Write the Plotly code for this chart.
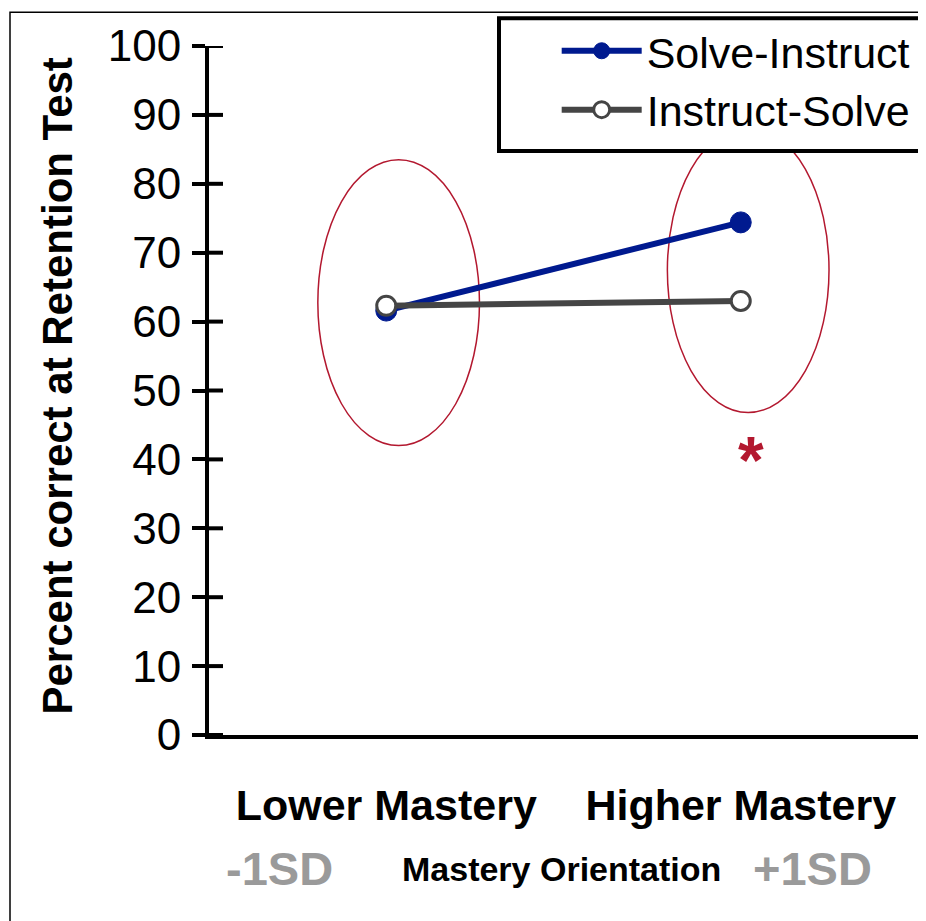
import plotly.graph_objects as go

# ---- data ----
categories = ["Lower Mastery", "Higher Mastery"]
solve_instruct = [61.6, 74.4]
instruct_solve = [62.3, 63.0]
y_ticks = [0, 10, 20, 30, 40, 50, 60, 70, 80, 90, 100]
sd_labels = ["-1SD", "+1SD"]
x_title = "Mastery Orientation"
y_title = "Percent correct at Retention Test"

FONT = "Arial, Liberation Sans, sans-serif"
BLUE = "#001A8F"
GRAY = "#454545"
RED = "#B3182F"

# page-pixel helpers (plot area: x 209..918, y 39..735 on the page)
PX0, PX1, PY0, PY1 = 209, 918, 39, 735
def px(x):
    return (x - PX0) / (PX1 - PX0)
def py(y):
    return (PY1 - y) / (PY1 - PY0)

xpos = [0, 1]

fig = go.Figure()
fig.add_trace(go.Scatter(
    x=xpos, y=solve_instruct, name="Solve-Instruct", mode="lines+markers",
    line=dict(color=BLUE, width=6),
    marker=dict(color=BLUE, size=21, line=dict(color=BLUE, width=1)),
))
fig.add_trace(go.Scatter(
    x=xpos, y=instruct_solve, name="Instruct-Solve", mode="lines+markers",
    line=dict(color=GRAY, width=6),
    marker=dict(color="white", size=19, line=dict(color=GRAY, width=3)),
))

# inner halves of the crossing y ticks
for t in y_ticks:
    fig.add_shape(type="line", xref="paper", yref="y", x0=0, x1=14 / (PX1 - PX0), y0=t, y1=t,
                  line=dict(color="black", width=4))

# ellipses around group pairs
fig.add_shape(type="circle", xref="x", yref="y", x0=-0.193, x1=0.263, y0=42.0, y1=83.5,
              line=dict(color=RED, width=1.5), layer="below")
fig.add_shape(type="circle", xref="x", yref="y", x0=0.793, x1=1.249, y0=46.8, y1=88.2,
              line=dict(color=RED, width=1.5), layer="below")
# outer frame
fig.add_shape(type="rect", xref="paper", yref="paper", x0=px(10), x1=1.3, y0=-0.5, y1=py(5),
              line=dict(color="black", width=1.5))
# legend box (runs off the right edge, as in the original)
fig.add_shape(type="rect", xref="paper", yref="paper", x0=px(499), x1=1.3, y0=py(145), y1=py(11),
              line=dict(color="black", width=4), fillcolor="white", layer="above")

fig.add_annotation(x=1.03, y=39.9, xref="x", yref="y", text="<b>*</b>", showarrow=False,
                   font=dict(family=FONT, size=66, color=RED),
                   xanchor="center", yanchor="middle")

# y-axis title (placed precisely as rotated text)
fig.add_annotation(x=px(58), y=py(383), xref="paper", yref="paper",
                   text="<b>" + y_title + "</b>", showarrow=False, textangle=-90,
                   xanchor="center", yanchor="middle",
                   font=dict(family=FONT, size=42, color="black"))

ann_y = py(870)
fig.add_annotation(x=px(279), y=ann_y, xref="paper", yref="paper",
                   text="<b>" + sd_labels[0] + "</b>", showarrow=False,
                   xanchor="center", yanchor="middle",
                   font=dict(family=FONT, size=47, color="#9A9A9A"))
fig.add_annotation(x=px(812), y=ann_y, xref="paper", yref="paper",
                   text="<b>" + sd_labels[1] + "</b>", showarrow=False,
                   xanchor="center", yanchor="middle",
                   font=dict(family=FONT, size=47, color="#9A9A9A"))
fig.add_annotation(x=px(561), y=ann_y, xref="paper", yref="paper",
                   text="<b>" + x_title + "</b>", showarrow=False,
                   xanchor="center", yanchor="middle",
                   font=dict(family=FONT, size=34, color="black"))

W, H = 918, 913  # page has an 8px body margin
fig.update_layout(
    width=W, height=H,
    margin=dict(l=PX0 - 8, r=W - (PX1 - 8), t=PY0 - 8, b=H - (PY1 - 8)),
    paper_bgcolor="white", plot_bgcolor="white",
    font=dict(family=FONT, color="black"),
    showlegend=True,
    legend=dict(
        x=px(500), y=py(9), xanchor="left", yanchor="top",
        borderwidth=0, bgcolor="rgba(0,0,0,0)",
        font=dict(family=FONT, size=43, color="black"),
        itemwidth=80,
        title=dict(text="&nbsp;&nbsp;&nbsp;&nbsp;", side="left",
                   font=dict(family=FONT, size=42)),
    ),
    xaxis=dict(
        range=[-0.5, 1.5], tickmode="array", tickvals=xpos,
        ticktext=["<b>" + c + "</b>" for c in categories],
        tickfont=dict(family=FONT, size=43, color="black"),
        showline=True, linecolor="black", linewidth=4,
        ticks="", showgrid=False, zeroline=False, ticklabelstandoff=29,
    ),
    yaxis=dict(
        range=[0, 100], tickmode="array", tickvals=y_ticks,
        tickfont=dict(family=FONT, size=44, color="black"),
        showline=True, linecolor="black", linewidth=4,
        ticks="outside", ticklen=13, tickwidth=4, tickcolor="black",
        showgrid=False, zeroline=False, ticklabelstandoff=2,
    ),
)

fig.write_html("out.html")
